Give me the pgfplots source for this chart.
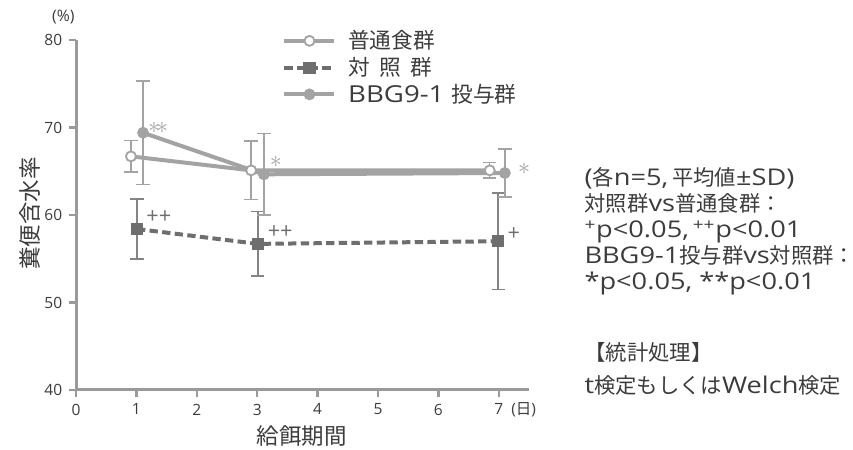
\documentclass[border=0pt]{standalone}
\usepackage{fontspec}
\setmainfont{Open Sans}[Scale=1.08, FakeStretch=1.18]
\newfontfamily\tickf{Open Sans}
\newfontfamily\jp{Noto Sans CJK JP}
\usepackage{pgfplots}
\pgfplotsset{compat=1.18}
\definecolor{lightg}{HTML}{A3A3A3}
\definecolor{darkg}{HTML}{6E6E6E}
\definecolor{axg}{HTML}{9A9A9A}
\definecolor{txt}{HTML}{3C3C3C}
\begin{document}
\begin{tikzpicture}
% overall frame of the figure
\path[use as bounding box] (0pt,0pt) rectangle (511.8pt,270pt);
\begin{axis}[
  at={(45.6pt,36pt)}, anchor=south west,
  scale only axis, width=271.8pt, height=210pt,
  xmin=0, xmax=7.5, ymin=40, ymax=80,
  axis lines=left,
  axis line style={axg, line width=1.8pt, -},
  xtick={0,1,...,7}, ytick={40,50,...,80},
  tick style={axg, line width=1.5pt},
  tick align=outside, major tick length=4.5pt,
  tick label style={font=\tickf\fontsize{9.3}{11}\selectfont, text=txt},
  /pgf/number format/assume math mode=true,
  clip=false,
  legend cell align=left,
  legend style={at={(axis cs:3.33,81.9)}, anchor=north west, draw=none, fill=none,
    font=\fontsize{13}{16}\selectfont, text=txt, row sep=-0.5pt, column sep=5pt,
    legend image code/.code={\draw[mark repeat=2, mark phase=2, #1]
      plot coordinates {(0pt,0pt) (15pt,0pt) (30pt,0pt)};}},
  error bars/y dir=both, error bars/y explicit,
  error bars/error mark options={rotate=90, mark size=4pt, line width=0.9pt},
]
% normal diet
\addplot[lightg, line width=2.4pt, mark=*, mark size=3pt,
  mark options={fill=white, draw=lightg, line width=1.1pt},
  error bars/error bar style={lightg, line width=0.9pt}]
  coordinates {(0.91,66.7) +- (0,1.8) (2.90,65.1) +- (0,3.35) (6.85,65.1) +- (0,0.9)};
\addlegendentry{\jp 普通食群}
% control
\addplot[darkg, line width=2.4pt, dash pattern=on 5pt off 2.6pt, mark=square*, mark size=3.4pt,
  mark options={solid, fill=darkg, line width=0.5pt},
  error bars/error bar style={darkg!85!white, line width=0.9pt, solid}]
  coordinates {(1.01,58.4) +- (0,3.45) (3.01,56.7) +- (0,3.7) (6.99,57.0) +- (0,5.5)};
\addlegendentry{\jp 対\ \ 照\ \ 群}
% BBG9-1
\addplot[lightg, line width=2.4pt, mark=*, mark size=3.3pt,
  mark options={fill=lightg, draw=lightg, line width=0.5pt},
  error bars/error bar style={lightg, line width=0.9pt}]
  coordinates {(1.11,69.4) +- (0,5.9) (3.11,64.65) +- (0,4.65) (7.10,64.8) +- (0,2.75)};
\addlegendentry{BBG9-1 {\jp 投与群}}
% significance marks
\node[lightg, font=\fontsize{15}{15}\selectfont] at (axis cs:1.36,70.0) {$\ast\!\ast$};
\node[lightg, font=\fontsize{15}{15}\selectfont] at (axis cs:3.31,66.1) {$\ast$};
\node[lightg, font=\fontsize{15}{15}\selectfont] at (axis cs:7.42,65.3) {$\ast$};
\node[darkg, font=\tickf\fontsize{13}{13}\selectfont] at (axis cs:1.37,59.8) {++};
\node[darkg, font=\tickf\fontsize{13}{13}\selectfont] at (axis cs:3.38,58.1) {++};
\node[darkg, font=\tickf\fontsize{13}{13}\selectfont] at (axis cs:7.25,57.8) {+};
\end{axis}
% axis annotations
\node[txt, font=\tickf\fontsize{9.5}{11}\selectfont] at (38pt,259.5pt) {(\%)};
\node[txt, font=\tickf\fontsize{9.3}{11}\selectfont, anchor=west] at (303pt,24.3pt) {({\jp 日})};
\node[txt, font=\fontsize{13.5}{15}\selectfont\jp] at (181pt,8.5pt) {給餌期間};
\node[txt, font=\fontsize{13.5}{15}\selectfont\jp, rotate=90] at (18pt,142pt) {糞便含水率};
% notes on the right
\node[txt, font=\fontsize{12.8}{15.6}\selectfont, anchor=north west, align=left, inner sep=0pt]
  at (350.5pt,169.5pt) {({\jp 各}n=5,\,{\jp 平均値}±SD)\\
  {\jp 対照群}vs{\jp 普通食群：}\\
  \textsuperscript{+}p<0.05,\,\textsuperscript{++}p<0.01\\
  BBG9-1{\jp 投与群}vs{\jp 対照群：}\\
  *p<0.05, **p<0.01};
\node[txt, font=\fontsize{12.8}{20}\selectfont, anchor=north west, align=left, inner sep=0pt]
  at (350.5pt,65pt) {{\jp 【統計処理】}\\
  t{\jp 検定もしくは}Welch{\jp 検定}};
\end{tikzpicture}
\end{document}
